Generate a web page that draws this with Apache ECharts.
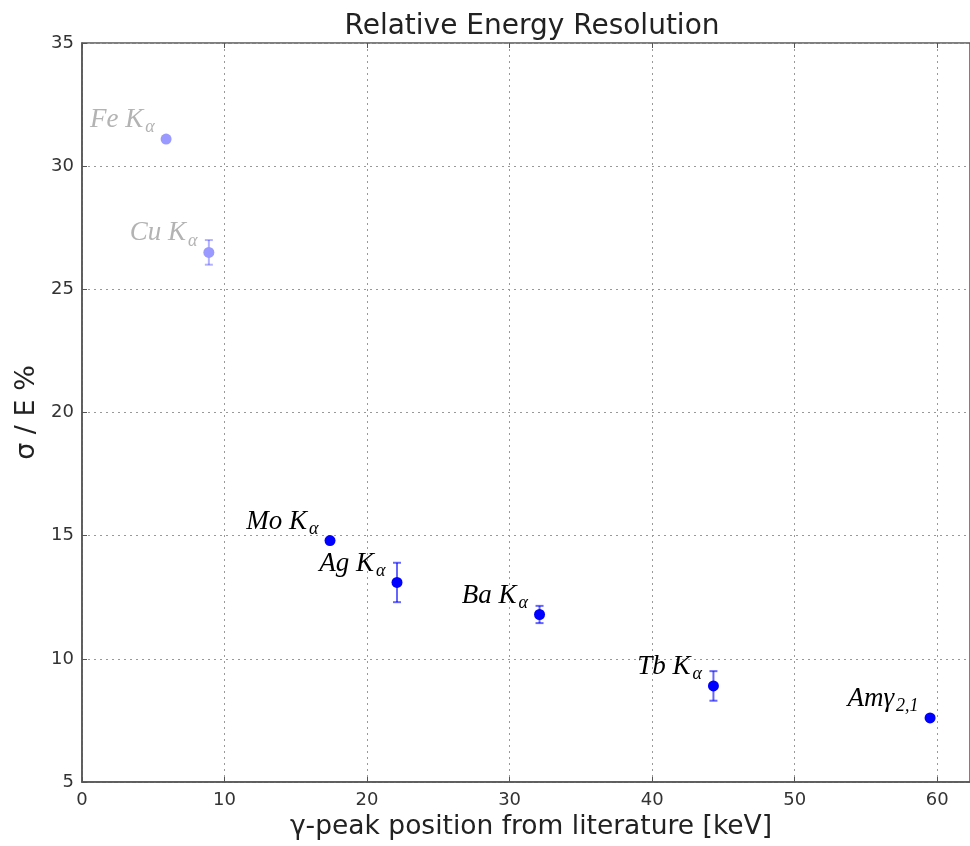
<!DOCTYPE html>
<html>
<head>
<meta charset="utf-8">
<title>Relative Energy Resolution</title>
<script src="https://cdn.jsdelivr.net/npm/echarts@6/dist/echarts.min.js"></script>
<style>
  html, body { margin: 0; padding: 0; background: #fff; }
  #chart { width: 970px; height: 846px; }
</style>
</head>
<body>
<div id="chart"></div>
<script>
// Calibration lines and measured resolution (sigma / E in percent)
const lineNames   = ['Fe', 'Cu', 'Mo', 'Ag', 'Ba', 'Tb', 'Am'];
const lineSymbols = ['K', 'K', 'K', 'K', 'K', 'K', 'γ'];
const lineSubs    = ['α', 'α', 'α', 'α', 'α', 'α', '2,1'];
const energies    = [5.9, 8.9, 17.4, 22.1, 32.1, 44.3, 59.5];
const resolution  = [31.1, 26.5, 14.8, 13.1, 11.8, 8.9, 7.6];
const resolutionErr = [0.1, 0.5, 0.1, 0.8, 0.35, 0.6, 0.1];
const usedInFit   = [false, false, true, true, true, true, true];

const xTicks = [0, 10, 20, 30, 40, 50, 60];

const BLUE = '#0000ff';
const BLUE_FADED = '#9999ff';

function pointLabel(i) {
  const name = lineNames[i];
  if (lineSymbols[i] === 'γ') {
    return '{m|' + name + '}{g|' + lineSymbols[i] + '}{s|' + lineSubs[i] + '}';
  }
  return '{m|' + name + ' ' + lineSymbols[i] + '}{s|' + lineSubs[i] + '}';
}

const points = energies.map((e, i) => {
  const faded = !usedInFit[i];
  const txt = faded ? '#b3b3b3' : '#000';
  return {
    value: [e, resolution[i]],
    itemStyle: { color: faded ? BLUE_FADED : BLUE, opacity: 1 },
    label: {
      show: true,
      position: 'left',
      distance: 6,
      offset: [0, -19],
      formatter: pointLabel(i),
      rich: {
        m: { fontFamily: 'Liberation Serif', fontStyle: 'italic', fontSize: 27, color: txt },
        g: { fontFamily: 'Liberation Serif', fontStyle: 'italic', fontSize: 27, color: txt },
        s: { fontFamily: 'Liberation Serif', fontStyle: 'italic', fontSize: 18, color: txt, padding: [15, 0, 0, 2] }
      }
    }
  };
});

const errorData = energies.map((e, i) => [e, resolution[i] - resolutionErr[i], resolution[i] + resolutionErr[i], usedInFit[i] ? 1 : 0]);

function renderErrorBar(params, api) {
  const x = api.value(0);
  const lo = api.coord([x, api.value(1)]);
  const hi = api.coord([x, api.value(2)]);
  const used = api.value(3) === 1;
  const stroke = used ? 'rgba(0,0,255,0.6)' : 'rgba(0,0,255,0.3)';
  const cap = 4;
  const style = { stroke: stroke, lineWidth: 2, fill: null };
  return {
    type: 'group',
    children: [
      { type: 'line', shape: { x1: lo[0], y1: lo[1], x2: hi[0], y2: hi[1] }, style: style },
      { type: 'line', shape: { x1: lo[0] - cap, y1: lo[1], x2: lo[0] + cap, y2: lo[1] }, style: style },
      { type: 'line', shape: { x1: hi[0] - cap, y1: hi[1], x2: hi[0] + cap, y2: hi[1] }, style: style }
    ]
  };
}

const chart = echarts.init(document.getElementById('chart'), null, { renderer: 'canvas' });

const axisLabelStyle = { fontFamily: 'DejaVu Sans', fontSize: 18, color: '#333' };
const gridLine = { show: true, lineStyle: { color: '#999', type: [2, 4], width: 1 } };

chart.setOption({
  backgroundColor: '#fff',
  animation: false,
  title: {
    text: 'Relative Energy Resolution',
    left: 527,
    textAlign: 'center',
    top: 8,
    textStyle: { fontFamily: 'DejaVu Sans', fontWeight: 'normal', fontSize: 28, color: '#222' }
  },
  grid: {
    left: 82, right: -2, top: 43, bottom: 64,
    show: true, borderColor: '#555', borderWidth: 1.5
  },
  xAxis: [{
    type: 'value',
    min: 0, max: 62.3, interval: 10,
    name: 'γ-peak position from literature [keV]',
    nameLocation: 'middle',
    nameGap: 32,
    nameTextStyle: { fontFamily: 'DejaVu Sans', fontSize: 26.5, color: '#222', padding: [0, 0, 0, 10] },
    axisLine: { show: true, lineStyle: { color: '#555', width: 1.5 } },
    axisTick: { show: true, inside: true, length: 5, lineStyle: { color: '#555' } },
    axisLabel: Object.assign({ margin: 9, customValues: xTicks, formatter: v => String(v) }, axisLabelStyle),
    splitLine: gridLine
  }, {
    type: 'value',
    position: 'top',
    min: 0, max: 62.3, interval: 10,
    axisLine: { show: false },
    axisTick: { show: true, inside: true, length: 5, lineStyle: { color: '#555' } },
    axisLabel: { show: false },
    splitLine: { show: false }
  }],
  yAxis: {
    type: 'value',
    min: 5, max: 35, interval: 5,
    name: 'σ / E %',
    nameLocation: 'middle',
    nameGap: 31,
    nameRotate: 90,
    nameTextStyle: { fontFamily: 'DejaVu Sans', fontSize: 27, color: '#222' },
    axisLine: { show: true, lineStyle: { color: '#555', width: 1.5 } },
    axisTick: { show: true, inside: true, length: 5, lineStyle: { color: '#555' } },
    axisLabel: Object.assign({ margin: 8 }, axisLabelStyle),
    splitLine: gridLine
  },
  series: [{
    type: 'custom',
    name: 'uncertainty',
    renderItem: renderErrorBar,
    data: errorData,
    encode: { x: 0, y: [1, 2] },
    z: 2,
    silent: true
  }, {
    type: 'scatter',
    name: 'resolution',
    symbol: 'circle',
    symbolSize: 11,
    data: points,
    z: 3
  }]
});
</script>
</body>
</html>
